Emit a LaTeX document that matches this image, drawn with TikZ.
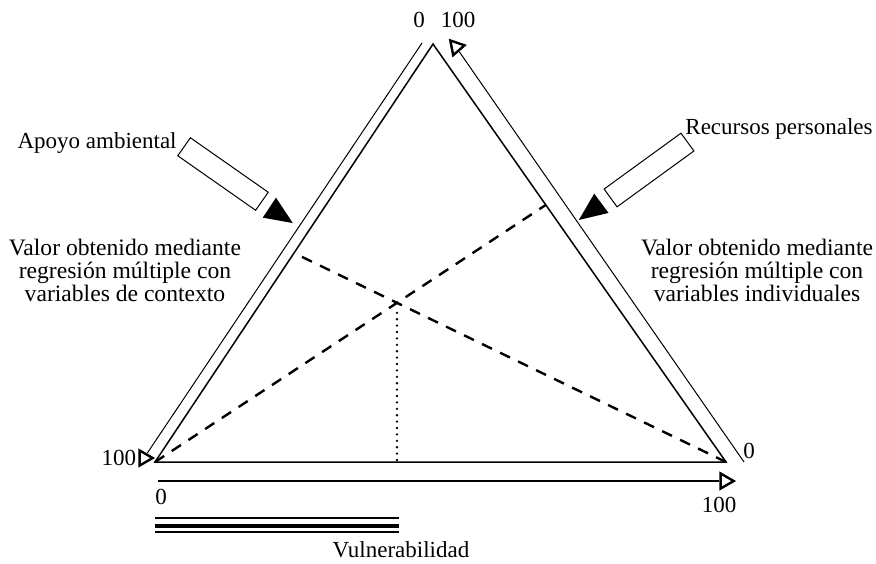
\documentclass[tikz,border=0pt]{standalone}
\usepackage{fontspec}
\setmainfont{Liberation Serif}
\usetikzlibrary{shapes.geometric, arrows.meta, positioning, calc}

\begin{document}
\begin{tikzpicture}[x=0.5pt, y=-0.5pt, font=\fontsize{11.5}{11.5}\selectfont]
            \tikzstyle{side} = [line width=0.75pt, line join=miter]
            \tikzstyle{scaleline} = [line width=0.5pt]
            \tikzstyle{marker} = [isosceles triangle, isosceles triangle stretches, draw=black, line width=1.2pt, fill=white, inner sep=0pt, minimum width=7.5pt, minimum height=6.5pt]
            \tikzstyle{blockbox} = [rectangle, draw=black, line width=0.5pt, fill=white, inner sep=0pt, minimum width=47.5pt, minimum height=11pt]
            \tikzstyle{blocktip} = [isosceles triangle, isosceles triangle stretches, fill=black, inner sep=0pt, minimum width=12pt, minimum height=14pt]
            \tikzstyle{number} = [inner sep=1pt]
            \tikzstyle{note} = [align=center, inner sep=0pt, font=\fontsize{11.8}{11.5}\selectfont]
            \tikzstyle{dashline} = [line width=1.2pt, dash pattern=on 5.5pt off 4.5pt]
            \tikzstyle{dotline} = [line width=1.3pt, line cap=round, dash pattern=on 0pt off 3.2pt]

            \useasboundingbox (0,0) rectangle (876,563);

            % triangle
            \coordinate (top) at (433,44);
            \coordinate (bl) at (155,462);
            \coordinate (br) at (726,462);
            \draw [side] (bl) -- (top) -- (br) -- cycle;

            % outer scales
            \coordinate (lo) at (422,43);
            \coordinate (ro) at (744,462);
            \coordinate (b0) at (158,481);
            \node (lmark) [marker] at (144,458) {};
            \node (tmark) [marker, rotate=11] at (456,47) {};
            \node (bmark) [marker] at (725,481) {};
            \draw [scaleline] (lo) -- (lmark);
            \draw [scaleline] (tmark) -- (ro);
            \draw [line width=0.65pt] (b0) -- (bmark);

            \node (ltop) [number] at (419,20) {0};
            \node (rtop) [number] at (458,20) {100};
            \node (lnum) [number, left=0pt of lmark] {100};
            \node (rnum) [number] at (749,451) {0};
            \node (bstart) [number] at (161,497) {0};
            \node (bend) [number] at (719,505) {100};

            % regression lines
            \coordinate (lp) at ($(bl)!0.5!(top)$);
            \coordinate (rp) at ($(br)!0.615!(top)$);
            \draw [dashline] (bl) -- (rp);
            \draw [dashline] (br) -- (lp);
            \coordinate (cross) at (intersection of bl--rp and br--lp);
            \draw [dotline] ($(cross)+(0,10)$) -- (cross |- bl);

            % block arrows
            \node (envbox) [blockbox, rotate=-35] at (223,174) {};
            \node (envtip) [blocktip, rotate=-33.4] at (276,212) {};
            \node (resbox) [blockbox, rotate=36] at (649,170) {};
            \node (restip) [blocktip, rotate=-143.4] at (595,208) {};

            \node (env) [anchor=base east, inner sep=0pt] at (177,148) {Apoyo ambiental};
            \node (res) [anchor=base west, inner sep=0pt] at (685,134) {Recursos personales};
            \node (ctx) [note] at (125,270) {Valor obtenido mediante\\regresión múltiple con\\variables de contexto};
            \node (ind) [note] at (757,270) {Valor obtenido mediante\\regresión múltiple con\\variables individuales};

            % vulnerability bars
            \coordinate (v0) at (155,518);
            \coordinate (v1) at (399,518);
            \draw [line width=1pt] (v0) -- (v1);
            \draw [line width=2pt] ($(v0)+(0,7.5)$) -- ($(v1)+(0,7.5)$);
            \draw [line width=1pt] ($(v0)+(0,14)$) -- ($(v1)+(0,14)$);
            \node (vul) at (401,550) {Vulnerabilidad};
        \end{tikzpicture}
\end{document}
